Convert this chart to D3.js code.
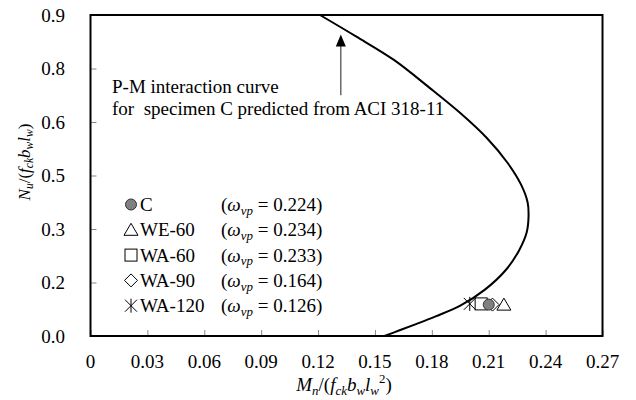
<!DOCTYPE html>
<html><head><meta charset="utf-8">
<script src="https://cdn.jsdelivr.net/npm/d3@7/dist/d3.min.js"></script>
<style>body{margin:0;background:#fff}svg{display:block}
svg text, svg tspan{font-family:"Times New Roman","Liberation Serif","DejaVu Serif",serif !important;}</style>
</head><body><svg id="c" width="636" height="400"></svg>
<script>
const xTicks = [0,0.03,0.06,0.09,0.12,0.15,0.18,0.21,0.24,0.27];
const xTickLabels = ["0","0.03","0.06","0.09","0.12","0.15","0.18","0.21","0.24","0.27"];
const yTicks = [0,0.15,0.3,0.45,0.6,0.75,0.9];
const yTickLabels = ["0.0","0.2","0.3","0.5","0.6","0.8","0.9"];
const curveM = [0.121,0.140,0.160,0.179,0.195,0.209,0.220,0.227,0.2305,0.231,0.230,0.226,0.219,0.208,0.195,0.182,0.172,0.163,0.155];
const curveN = [0.90,0.84,0.774,0.695,0.625,0.555,0.485,0.425,0.375,0.335,0.29,0.24,0.185,0.13,0.085,0.055,0.034,0.016,0.0];
const specimens = ["C","WE-60","WA-60","WA-90","WA-120"];
const omega = ["0.224","0.234","0.233","0.164","0.126"];
const specM = [0.210,0.218,0.206,0.212,0.200];
const specN = [0.088,0.088,0.09,0.088,0.09];
const arrowM = 0.132, arrowN0 = 0.675, arrowN1 = 0.845;

const FONT = "'Times New Roman','Liberation Serif','DejaVu Serif',serif";
const svg = d3.select("#c").attr("font-family",FONT);
const L=90.5,R=602.5,T=15,B=336;
const x = d3.scaleLinear().domain([0,0.27]).range([L,R]);
const y = d3.scaleLinear().domain([0,0.9]).range([B,T]);
const FS = 19;

const xa = d3.axisBottom(x).tickValues(xTicks).tickSize(-6).tickFormat("");
const ya = d3.axisLeft(y).tickValues(yTicks).tickSize(-6).tickFormat("");
svg.append("g").attr("transform",`translate(0,${B})`).call(xa).call(g=>{g.select(".domain").remove();g.selectAll("line").attr("stroke","#888");});
svg.append("g").attr("transform",`translate(${L},0)`).call(ya).call(g=>{g.select(".domain").remove();g.selectAll("line").attr("stroke","#888");});
svg.append("rect").attr("x",L).attr("y",T).attr("width",R-L).attr("height",B-T).attr("fill","none").attr("stroke","#000").attr("stroke-width",2);

svg.append("g").selectAll("text").data(xTicks).join("text")
  .attr("x",d=>x(d)).attr("y",368).attr("text-anchor","middle").attr("font-size",FS)
  .text((d,i)=>xTickLabels[i]);
svg.append("g").selectAll("text").data(yTicks).join("text")
  .attr("x",65).attr("y",d=>y(d)).attr("dy","0.35em").attr("text-anchor","end").attr("font-size",FS)
  .text((d,i)=>yTickLabels[i]);

// rich text: [string, italic, shift] shift 0 normal, 1 subscript, -1 superscript
function rich(t, fs, parts){
  let cur = 0;
  const sf = fs*0.68;
  parts.forEach(([s,ital,sh])=>{
    const off = sh===1?fs*0.2:(sh===-1?-fs*0.4:0);
    const ts = t.append("tspan").attr("dy",off-cur).text(s);
    if(ital) ts.attr("font-style","italic");
    if(sh) ts.attr("font-size",sf);
    cur = off;
  });
}
const xt = svg.append("text").attr("x",344).attr("y",391).attr("text-anchor","middle").attr("font-size",FS);
rich(xt,FS,[["M",1,0],["n",1,1],["/(",0,0],["f",1,0],["ck",1,1],["b",1,0],["w",1,1],["l",1,0],["w",1,1],["2",0,-1],[")",0,0]]);

const YF = 17;
const yt = svg.append("text").attr("transform","translate(30,162) rotate(-90)").attr("text-anchor","middle").attr("font-size",YF);
rich(yt,YF,[["N",1,0],["u",1,1],["/(",0,0],["f",1,0],["ck",1,1],["b",1,0],["w",1,1],["l",1,0],["w",1,1],[")",0,0]]);

// curve
const pts = curveM.map((m,i)=>[m,curveN[i]]);
svg.append("path").datum(pts).attr("fill","none").attr("stroke","#000").attr("stroke-width",2)
  .attr("d",d3.line().x(d=>x(d[0])).y(d=>y(d[1])).curve(d3.curveCatmullRom));

// arrow
svg.append("line").attr("x1",x(arrowM)).attr("x2",x(arrowM)).attr("y1",y(arrowN0)).attr("y2",y(arrowN1)+8).attr("stroke","#444").attr("stroke-width",1.2);
svg.append("path").attr("d",`M${x(arrowM)},${y(arrowN1)} l-5,12 l10,0 z`).attr("fill","#000");

// annotation
svg.append("text").attr("x",112).attr("y",93).attr("font-size",FS).text("P-M interaction curve");
svg.append("text").attr("x",112).attr("y",115).attr("font-size",FS).attr("xml:space","preserve").text("for  specimen C predicted from ACI 318-11");

// markers
function marker(g,i,cx,cy){
  const s=6;
  if(i===0) g.append("circle").attr("cx",cx).attr("cy",cy).attr("r",5.5).attr("fill","#808080").attr("stroke","#333").attr("stroke-width",1);
  else if(i===1) g.append("path").attr("d",`M${cx},${cy-6.5} L${cx+7},${cy+5.5} L${cx-7},${cy+5.5} Z`).attr("fill","none").attr("stroke","#000").attr("stroke-width",1);
  else if(i===2) g.append("rect").attr("x",cx-s).attr("y",cy-s).attr("width",2*s).attr("height",2*s).attr("fill","none").attr("stroke","#000").attr("stroke-width",1);
  else if(i===3) g.append("path").attr("d",`M${cx},${cy-6.5} L${cx+6.5},${cy} L${cx},${cy+6.5} L${cx-6.5},${cy} Z`).attr("fill","none").attr("stroke","#000").attr("stroke-width",1);
  else g.append("path").attr("d",`M${cx-6},${cy-6} L${cx+6},${cy+6} M${cx+6},${cy-6} L${cx-6},${cy+6} M${cx},${cy-7} L${cx},${cy+7}`).attr("stroke","#000").attr("stroke-width",1);
}
const mg = svg.append("g");
[4,2,1,3,0].forEach(i=>marker(mg,i,x(specM[i]),y(specN[i])));

// legend
const lg = svg.append("g");
const base0 = 211, step = 25.3;
specimens.forEach((s,i)=>{
  const by = base0 + i*step;
  marker(lg,i,131,by-6.5);
  lg.append("text").attr("x",140).attr("y",by).attr("font-size",FS).text(s);
  const t = lg.append("text").attr("x",221).attr("y",by).attr("font-size",FS);
  rich(t,FS,[["(",0,0],["ω",1,0],["vp",1,1],[" = "+omega[i]+")",0,0]]);
  t.selectAll("tspan").attr("xml:space","preserve");
});
</script></body></html>
